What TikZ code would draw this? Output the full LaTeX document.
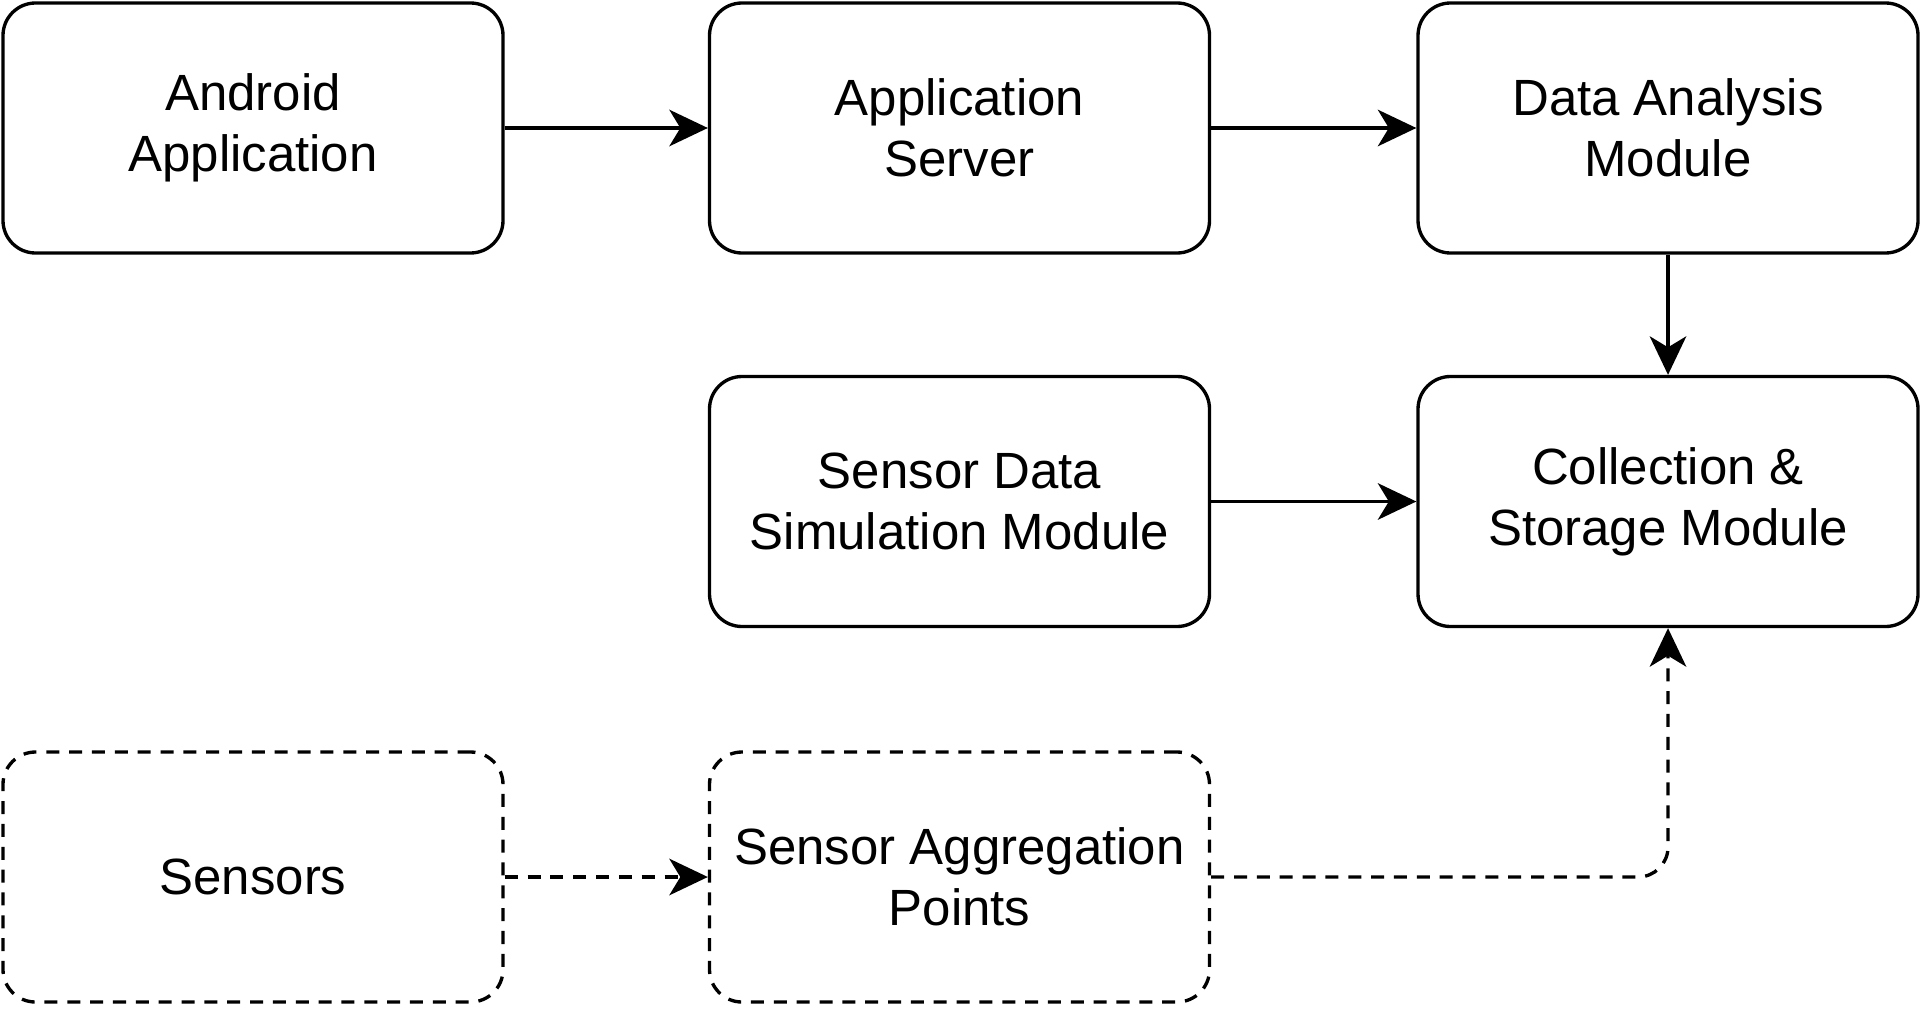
\documentclass[tikz,border=0pt]{standalone}
\usepackage{fontspec}
\setmainfont{Liberation Sans}
\usetikzlibrary{arrows.meta}

\tikzset{
    block/.style={draw, line width=1.9pt, rounded corners=0.65cm,
        minimum width=10cm, minimum height=5cm, align=center,
        font=\fontsize{29}{34.7}\selectfont},
    dashblock/.style={block, dash pattern=on 7.4pt off 5.6pt},
    link/.style={line width=1.9pt,
        -{Stealth[length=0.77cm, width=0.73cm, inset=0.22cm]}},
    dashlink/.style={link, dash pattern=on 7.4pt off 5.6pt}
}

\begin{document}
\begin{tikzpicture}
            \useasboundingbox (0,0) rectangle (38.46,-20.18);

            \node [block] (android) at (5.06,-2.56) {Android\\Application};
            \node [block] (server) at (19.19,-2.56) {Application\\Server};
            \node [block] (analysis) at (33.36,-2.56) {Data Analysis\\Module};

            \node [block] (simulation) at (19.19,-10.03) {Sensor Data\\Simulation Module};
            \node [block] (storage) at (33.36,-10.03) {Collection \&\\Storage Module};

            \node [dashblock] (sensors) at (5.06,-17.54) {Sensors};
            \node [dashblock] (aggregation) at (19.19,-17.54) {Sensor Aggregation\\Points};

            \draw [link] (android) -- (server);
            \draw [link] (server) -- (analysis);
            \draw [link] (analysis) -- (storage);
            \draw [link] (simulation) -- (storage);
            \draw [dashlink] (sensors) -- (aggregation);
            \draw [dashlink, rounded corners=0.6cm]
                (aggregation.east) -| (storage.south);
\end{tikzpicture}
\end{document}
